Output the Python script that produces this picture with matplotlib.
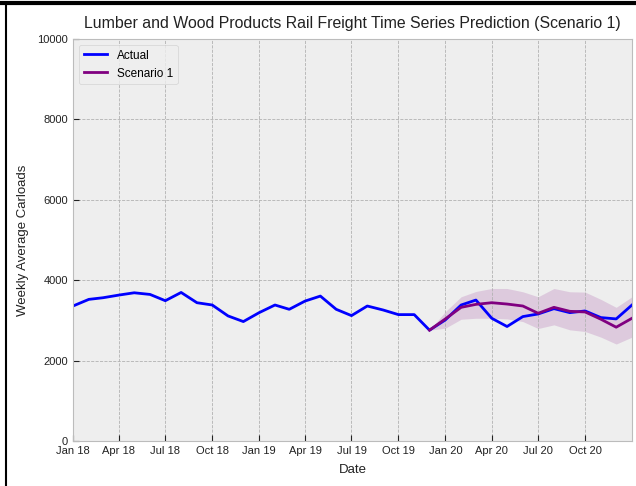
import matplotlib
matplotlib.use("Agg")
import matplotlib.pyplot as plt
import matplotlib.dates as mdates
from matplotlib.lines import Line2D
import pandas as pd
import numpy as np

plt.style.use("bmh")
plt.rcParams['font.family'] = ['Liberation Sans', 'DejaVu Sans']

actual_dates = pd.date_range("2018-01-01", "2021-01-01", freq="MS")
actual_values = [3358, 3523, 3564, 3630, 3687, 3646, 3490, 3695, 3440, 3383, 3111, 2971,
                 3193, 3383, 3276, 3481, 3605, 3276, 3119, 3358, 3259, 3144, 3144, 2757,
                 3012, 3383, 3506, 3053, 2848, 3095, 3160, 3292, 3193, 3235, 3070, 3037, 3383]

pred_dates = pd.date_range("2019-12-01", "2021-01-01", freq="MS")
pred_values = [2757, 3037, 3325, 3399, 3440, 3407, 3358, 3177, 3325, 3226, 3210, 3029, 2831, 3053]
pred_upper = [2757, 3218, 3588, 3720, 3794, 3794, 3712, 3588, 3794, 3712, 3704, 3523, 3325, 3588]
pred_lower = [2757, 2807, 3029, 3053, 3053, 3037, 2971, 2798, 2889, 2765, 2724, 2584, 2412, 2584]

tick_dates = pd.date_range("2018-01-01", "2020-10-01", freq="QS")
tick_labels = [d.strftime("%b %y") for d in tick_dates]

fig = plt.figure(figsize=(6.36, 4.86), dpi=100)
fig.patch.set_facecolor("white")
ax = fig.add_axes([73/636, 1-441/486, (632-73)/636, (441-39)/486])
ax.set_facecolor("#eeeeee")

ax.fill_between(pred_dates, pred_lower, pred_upper, color="purple", alpha=0.15, lw=0)
ax.plot(actual_dates, actual_values, color="blue", lw=2, label="Actual")
ax.plot(pred_dates, pred_values, color="purple", lw=2, label="Scenario 1")

ax.set_xlim(actual_dates[0], actual_dates[-1])
ax.set_ylim(0, 10000)
ax.set_yticks([0, 2000, 4000, 6000, 8000, 10000])
ax.set_xticks(tick_dates)
ax.set_xticklabels(tick_labels)
ax.tick_params(axis="both", direction="in", labelsize=8, colors="#222222", length=4)
ax.grid(True, color="#b2b2b2", linestyle="--", linewidth=0.6)
for s in ax.spines.values():
    s.set_color("#bcbcbc")

ax.set_title("Lumber and Wood Products Rail Freight Time Series Prediction (Scenario 1)",
             fontsize=11.4, color="#222222", pad=8)
ax.set_xlabel("Date", fontsize=9.5, color="#222222", labelpad=6)
ax.set_ylabel("Weekly Average Carloads", fontsize=9.5, color="#222222", labelpad=6)
leg = ax.legend(loc="upper left", fontsize=8.5, frameon=True)
leg.get_frame().set_facecolor("#eeeeee")
leg.get_frame().set_edgecolor("#cccccc")

fig.add_artist(Line2D([0, 1], [1-3/486, 1-3/486], color="black", lw=3, transform=fig.transFigure))
fig.add_artist(Line2D([5.5/636, 5.5/636], [0, 1-3/486], color="black", lw=1.5, transform=fig.transFigure))

fig.savefig("out.png", dpi=100)
